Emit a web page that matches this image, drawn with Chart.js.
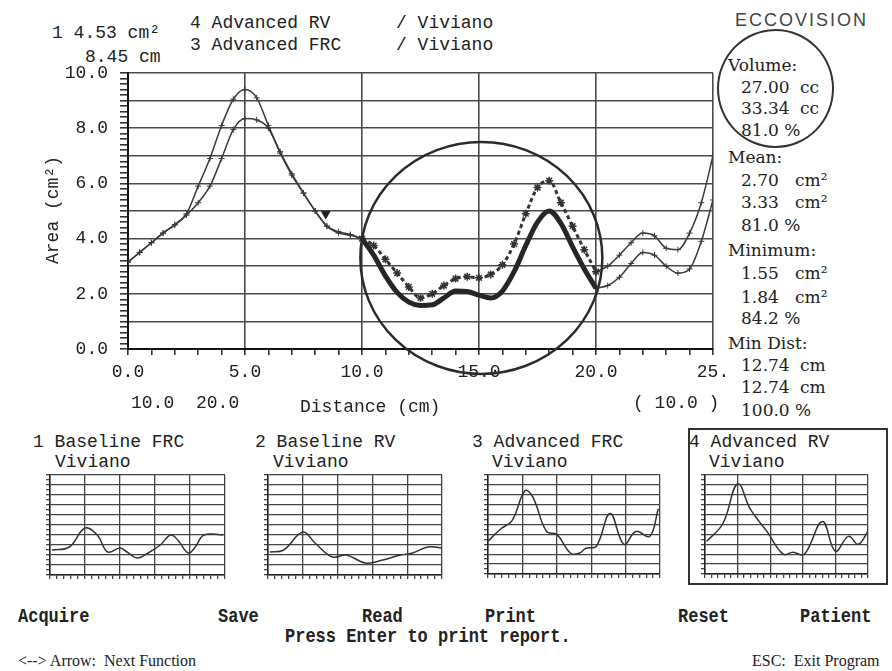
<!DOCTYPE html>
<html>
<head>
<meta charset="utf-8">
<script src="https://cdn.jsdelivr.net/npm/chart.js@4.4.0/dist/chart.umd.min.js"></script>
<style>
  body { margin: 0; background: #fff; width: 892px; height: 671px; position: relative; overflow: hidden; }
  .m { position: absolute; white-space: pre; font-family: "Liberation Mono", monospace; font-size: 18px; line-height: 20px; color: #222; }
  .s { position: absolute; white-space: pre; font-family: "DejaVu Serif", serif; font-size: 17px; line-height: 20px; color: #222; }
  .menu { position: absolute; white-space: pre; font-family: "Liberation Mono", monospace; font-weight: bold; font-size: 17px; line-height: 20px; color: #222; transform: scaleY(1.2); transform-origin: left center; }
  .foot { position: absolute; white-space: pre; font-family: "Liberation Serif", serif; font-size: 16px; line-height: 20px; color: #222; }
  canvas { position: absolute; }
</style>
</head>
<body>

<!-- header -->
<div class="m" style="left:52px;top:23px">1 4.53 cm²</div>
<div class="m" style="left:85px;top:47px">8.45 cm</div>
<div class="m" style="left:190px;top:13px">4 Advanced RV</div>
<div class="m" style="left:190px;top:35px">3 Advanced FRC</div>
<div class="m" style="left:396px;top:13px">/ Viviano</div>
<div class="m" style="left:396px;top:35px">/ Viviano</div>

<!-- right panel -->
<div style="position:absolute;left:735px;top:10px;font-family:'Liberation Sans',sans-serif;font-size:18px;letter-spacing:2px;color:#444">ECCOVISION</div>
<div style="position:absolute;left:717px;top:29px;width:117px;height:119px;box-sizing:border-box;border:2.5px solid #333;border-radius:50%"></div>
<div class="s" style="left:728px;top:55px">Volume:</div>
<div class="s" style="left:741px;top:77px">27.00</div><div class="s" style="left:800px;top:77px">cc</div>
<div class="s" style="left:741px;top:98px">33.34</div><div class="s" style="left:800px;top:98px">cc</div>
<div class="s" style="left:741px;top:120px">81.0 %</div>
<div class="s" style="left:728px;top:147px">Mean:</div>
<div class="s" style="left:741px;top:170px">2.70</div><div class="s" style="left:795px;top:170px">cm²</div>
<div class="s" style="left:741px;top:192px">3.33</div><div class="s" style="left:795px;top:192px">cm²</div>
<div class="s" style="left:741px;top:215px">81.0 %</div>
<div class="s" style="left:728px;top:240px">Minimum:</div>
<div class="s" style="left:741px;top:263px">1.55</div><div class="s" style="left:795px;top:263px">cm²</div>
<div class="s" style="left:741px;top:287px">1.84</div><div class="s" style="left:795px;top:287px">cm²</div>
<div class="s" style="left:741px;top:308px">84.2 %</div>
<div class="s" style="left:728px;top:333px">Min Dist:</div>
<div class="s" style="left:741px;top:355px">12.74</div><div class="s" style="left:800px;top:355px">cm</div>
<div class="s" style="left:741px;top:377px">12.74</div><div class="s" style="left:800px;top:377px">cm</div>
<div class="s" style="left:741px;top:400px">100.0 %</div>

<!-- main chart -->
<canvas id="main" width="740" height="420" style="left:0;top:0"></canvas>
<div class="m" style="left:53px;top:210px;transform:translate(-50%,-50%) rotate(-90deg)">Area (cm²)</div>
<div class="m" style="left:131px;top:393px">10.0</div>
<div class="m" style="left:196px;top:393px">20.0</div>
<div class="m" style="left:300px;top:397px">Distance (cm)</div>
<div class="m" style="left:633px;top:393px">( 10.0 )</div>

<!-- thumbnails -->
<div class="m" style="left:33px;top:432px">1 Baseline FRC</div>
<div class="m" style="left:55px;top:452px">Viviano</div>
<div class="m" style="left:255px;top:432px">2 Baseline RV</div>
<div class="m" style="left:273px;top:452px">Viviano</div>
<div class="m" style="left:472px;top:432px">3 Advanced FRC</div>
<div class="m" style="left:492px;top:452px">Viviano</div>
<div style="position:absolute;left:688px;top:428px;width:200px;height:157px;box-sizing:border-box;border:2px solid #333"></div>
<div class="m" style="left:689px;top:432px">4 Advanced RV</div>
<div class="m" style="left:709px;top:452px">Viviano</div>
<canvas id="mini1" width="182" height="107" style="left:45px;top:473px"></canvas>
<canvas id="mini2" width="181" height="107" style="left:263px;top:473px"></canvas>
<canvas id="mini3" width="179" height="106" style="left:483px;top:473px"></canvas>
<canvas id="mini4" width="170" height="106" style="left:700px;top:473px"></canvas>

<!-- menu -->
<div class="menu" style="left:18px;top:607px">Acquire</div>
<div class="menu" style="left:218px;top:607px">Save</div>
<div class="menu" style="left:362px;top:607px">Read</div>
<div class="menu" style="left:485px;top:607px">Print</div>
<div class="menu" style="left:678px;top:607px">Reset</div>
<div class="menu" style="left:800px;top:607px">Patient</div>
<div class="menu" style="left:285px;top:627px">Press Enter to print report.</div>
<div class="foot" style="left:18px;top:651px">&lt;--&gt; Arrow:  Next Function</div>
<div class="foot" style="left:752px;top:651px">ESC:  Exit Program</div>

<script>
// distance along the airway (cm)
const distance = [0, 0.5, 1, 1.5, 2, 2.5, 3, 3.5, 4, 4.5, 5, 5.5, 6, 6.5, 7, 7.5, 8, 8.5, 9, 9.5,
  10, 10.5, 11, 11.5, 12, 12.5, 13, 13.5, 14, 14.5, 15, 15.5, 16, 16.5, 17, 17.5, 18, 18.5, 19, 19.5,
  20, 20.5, 21, 21.5, 22, 22.5, 23, 23.5, 24, 24.5, 25];
// 4 Advanced RV
const rvArea = [3.15, 3.5, 3.85, 4.2, 4.5, 4.9, 5.9, 6.9, 8.1, 9.05, 9.4, 9.1, 8.1, 7.15, 6.35, 5.65, 5.0, 4.45, 4.2, 4.12,
  4.0, 3.4, 2.65, 2.05, 1.7, 1.58, 1.6, 1.85, 2.1, 2.08, 1.95, 1.85, 2.1, 2.8, 3.75, 4.6, 5.0, 4.55, 3.7, 2.9,
  2.2, 2.3, 2.6, 3.1, 3.5, 3.4, 3.0, 2.75, 2.9, 3.9, 5.4];
// 3 Advanced FRC
const frcArea = [3.15, 3.5, 3.85, 4.2, 4.5, 4.85, 5.3, 5.9, 6.9, 7.95, 8.35, 8.3, 8.0, 7.1, 6.3, 5.65, 5.0, 4.45, 4.25, 4.15,
  4.0, 3.75, 3.25, 2.75, 2.25, 1.85, 2.0, 2.3, 2.55, 2.62, 2.58, 2.7, 3.05, 3.8, 4.9, 5.85, 6.1, 5.3, 4.45, 3.6,
  2.8, 3.0, 3.4, 3.85, 4.2, 4.1, 3.65, 3.6, 4.2, 5.3, 7.0];
const focusRange = [10, 20];
const cursorX = [8.45];
const cursorY = [4.9];
const ringCenter = [15.1, 3.3];

// thumbnails (x as fraction of width, y on 0-10 grid)
const mini1X = [0.01, 0.11, 0.2, 0.27, 0.33, 0.4, 0.44, 0.5, 0.57, 0.63, 0.69, 0.73, 0.79, 0.83, 0.88, 0.99];
const mini1Y = [2.5, 2.8, 4.7, 4.0, 2.3, 2.7, 2.3, 1.7, 2.3, 3.0, 4.0, 3.5, 2.2, 2.8, 4.0, 4.0];
const mini2X = [0.01, 0.09, 0.2, 0.27, 0.37, 0.45, 0.56, 0.66, 0.76, 0.83, 0.92, 1.0];
const mini2Y = [2.3, 2.5, 4.3, 3.2, 1.8, 2.0, 1.2, 1.5, 2.0, 2.2, 2.8, 2.7];
const mini3X = [0.0, 0.07, 0.14, 0.215, 0.26, 0.34, 0.4, 0.48, 0.53, 0.57, 0.63, 0.71, 0.79, 0.86, 0.94, 0.99];
const mini3Y = [3.3, 4.5, 5.4, 8.4, 7.8, 4.3, 4.0, 2.1, 2.1, 2.6, 2.8, 6.1, 3.0, 4.3, 3.8, 6.6];
const mini4X = [0.01, 0.11, 0.2, 0.28, 0.38, 0.48, 0.54, 0.61, 0.72, 0.8, 0.88, 0.94, 1.0];
const mini4Y = [3.3, 5.1, 9.1, 6.5, 4.3, 2.0, 2.2, 2.0, 5.3, 2.3, 3.8, 3.0, 4.3];

Chart.defaults.font.family = '"Liberation Mono", monospace';
Chart.defaults.font.size = 18;
Chart.defaults.color = '#222';

const near = v => Math.abs(v - Math.round(v)) < 1e-6;

function outside(values) {
  return distance.map((x, i) => ({ x: x, y: (x <= focusRange[0] || x >= focusRange[1]) ? values[i] : null }));
}
function inside(values) {
  return distance.map((x, i) => ({ x: x, y: (x >= focusRange[0] && x <= focusRange[1]) ? values[i] : null }));
}

const ringPlugin = {
  id: 'ring',
  afterDatasetsDraw(chart) {
    const { ctx, scales } = chart;
    ctx.save();
    ctx.beginPath();
    ctx.ellipse(scales.x.getPixelForValue(ringCenter[0]), scales.y.getPixelForValue(ringCenter[1]), 121, 116, 0, 0, Math.PI * 2);
    ctx.lineWidth = 2.5;
    ctx.strokeStyle = '#2b2b2b';
    ctx.stroke();
    ctx.restore();
  }
};

new Chart(document.getElementById('main'), {
  type: 'line',
  data: {
    datasets: [
      {
        label: 'cursor',
        data: cursorX.map((x, i) => ({ x: x, y: cursorY[i] })),
        showLine: false,
        pointStyle: 'triangle',
        rotation: 180,
        pointRadius: 5,
        pointBackgroundColor: '#222',
        pointBorderColor: '#222'
      },
      {
        label: '4 Advanced RV (focus)',
        data: inside(rvArea),
        borderColor: '#262626',
        borderWidth: 5,
        pointRadius: 0,
        cubicInterpolationMode: 'monotone'
      },
      {
        label: '3 Advanced FRC (focus)',
        data: inside(frcArea),
        borderColor: '#333',
        borderWidth: 3,
        borderDash: [4, 3],
        pointStyle: 'star',
        pointRadius: 4,
        pointBorderWidth: 1.5,
        pointBorderColor: '#333',
        cubicInterpolationMode: 'monotone'
      },
      {
        label: '4 Advanced RV',
        data: outside(rvArea),
        borderColor: '#3a3a3a',
        borderWidth: 1.5,
        pointStyle: 'cross',
        pointRadius: 3,
        pointBorderWidth: 1,
        pointBorderColor: '#3a3a3a',
        cubicInterpolationMode: 'monotone'
      },
      {
        label: '3 Advanced FRC',
        data: outside(frcArea),
        borderColor: '#3a3a3a',
        borderWidth: 1.5,
        pointStyle: 'cross',
        pointRadius: 3,
        pointBorderWidth: 1,
        pointBorderColor: '#3a3a3a',
        cubicInterpolationMode: 'monotone'
      }
    ]
  },
  options: {
    responsive: false,
    animation: false,
    spanGaps: false,
    layout: { padding: { left: 0, top: 73, right: 27, bottom: 21 } },
    plugins: { legend: { display: false }, tooltip: { enabled: false } },
    scales: {
      x: {
        type: 'linear',
        min: 0,
        max: 25,
        afterFit: s => { s.height = 50; },
        border: { color: '#111', width: 2 },
        grid: {
          color: c => (c.tick && near(c.tick.value / 5)) ? '#4a4a4a' : 'rgba(0,0,0,0)',
          lineWidth: 1.6,
          tickColor: '#333',
          tickLength: 6
        },
        ticks: {
          stepSize: 1,
          autoSkip: false,
          maxRotation: 0,
          padding: 6,
          callback: v => near(v / 5) ? (v === 25 ? '25.' : v.toFixed(1)) : ''
        }
      },
      y: {
        min: 0,
        max: 10,
        afterFit: s => { s.width = 128; },
        border: { color: '#111', width: 2 },
        grid: {
          color: c => (c.tick && near(c.tick.value)) ? '#4a4a4a' : 'rgba(0,0,0,0)',
          lineWidth: 1.6,
          tickColor: '#333',
          tickLength: 8
        },
        ticks: {
          stepSize: 0.2,
          autoSkip: false,
          padding: 12,
          callback: v => near(v / 2) ? (Math.round(v * 10) / 10).toFixed(1) : ''
        }
      }
    }
  },
  plugins: [ringPlugin]
});

function mini(id, xs, ys) {
  new Chart(document.getElementById(id), {
    type: 'line',
    data: {
      datasets: [{
        data: xs.map((x, i) => ({ x: x, y: ys[i] })),
        borderColor: '#333',
        borderWidth: 1.5,
        pointRadius: 0,
        tension: 0.4
      }]
    },
    options: {
      responsive: false,
      animation: false,
      layout: { padding: { left: 0, top: 2, right: 2, bottom: 0 } },
      plugins: { legend: { display: false }, tooltip: { enabled: false } },
      scales: {
        x: {
          type: 'linear', min: 0, max: 1,
          afterFit: s => { s.height = 5; },
          border: { color: '#222', width: 1.5 },
          grid: {
            color: c => (c.tick && near(c.tick.value * 5)) ? '#444' : 'rgba(0,0,0,0)',
            lineWidth: 1.3, tickColor: '#444', tickLength: 4
          },
          ticks: { display: false, stepSize: 0.04, autoSkip: false }
        },
        y: {
          min: 0, max: 10,
          afterFit: s => { s.width = 5; },
          border: { color: '#222', width: 1.5 },
          grid: {
            color: c => (c.tick && near(c.tick.value)) ? '#444' : 'rgba(0,0,0,0)',
            lineWidth: 1.3, tickColor: '#444', tickLength: 4
          },
          ticks: { display: false, stepSize: 0.5, autoSkip: false }
        }
      }
    }
  });
}
mini('mini1', mini1X, mini1Y);
mini('mini2', mini2X, mini2Y);
mini('mini3', mini3X, mini3Y);
mini('mini4', mini4X, mini4Y);
</script>
</body>
</html>
